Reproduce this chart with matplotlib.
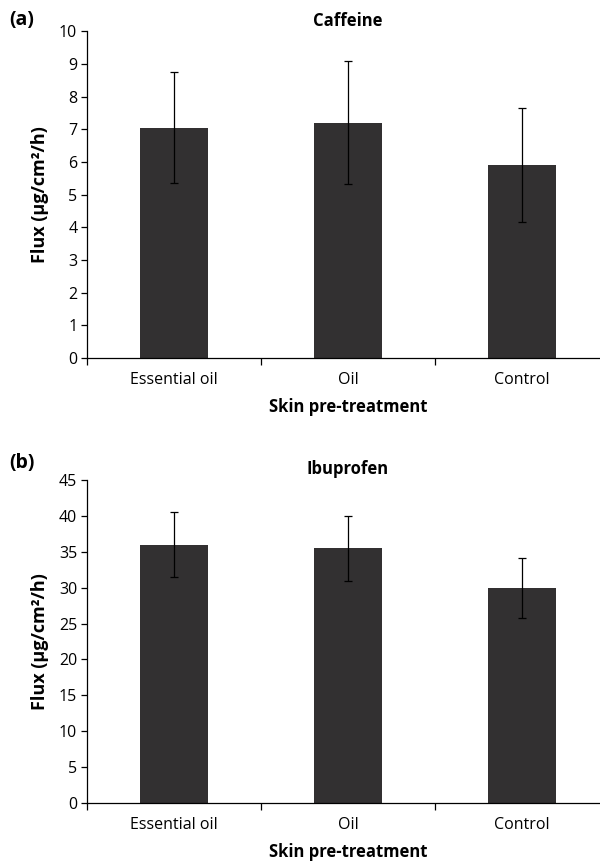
import numpy as np
import matplotlib.pyplot as plt

plt.rcParams['font.family'] = ['Open Sans', 'DejaVu Sans']

# Data
treatments = ['Essential oil', 'Oil', 'Control']
caffeine_flux = [7.05, 7.2, 5.9]
caffeine_err = [1.7, 1.88, 1.75]
ibuprofen_flux = [36.0, 35.5, 30.0]
ibuprofen_err = [4.55, 4.55, 4.2]

bar_color = '#323031'

fig = plt.figure(figsize=(6, 8.65), dpi=100)
ax1 = fig.add_axes([0.145, 0.586, 0.87, 0.378])
ax2 = fig.add_axes([0.145, 0.0717, 0.87, 0.3734])


def draw_panel(ax, vals, errs, title, ymax, ystep):
    x = np.arange(len(treatments))
    ax.bar(x, vals, width=0.39, color=bar_color, zorder=2)
    ax.errorbar(x, vals, yerr=errs, fmt='none', ecolor='black',
                elinewidth=0.9, capsize=3, capthick=0.9, zorder=3)
    ax.set_xlim(-0.5, 2.5)
    ax.set_ylim(0, ymax)
    ax.set_yticks(np.arange(0, ymax + 0.1, ystep))
    ax.set_xticks(x)
    ax.set_xticklabels(treatments, fontsize=11.5)
    ax.set_xticks([-0.5, 0.5, 1.5, 2.5], minor=True)
    ax.tick_params(axis='x', which='major', length=0, pad=10)
    ax.tick_params(axis='x', which='minor', length=5, width=0.9)
    ax.tick_params(axis='y', length=4, width=0.9, labelsize=11.5, pad=3)
    for s in ['top', 'right']:
        ax.spines[s].set_visible(False)
    for s in ['left', 'bottom']:
        ax.spines[s].set_linewidth(0.9)
    ax.set_ylabel('Flux (\u03bcg/cm\u00b2/h)', fontsize=13, fontweight='bold',
                  labelpad=7)
    ax.set_title(title, fontsize=12, fontweight='bold', pad=4)
    ax.set_xlabel('Skin pre-treatment', fontsize=12, fontweight='bold',
                  labelpad=7)


draw_panel(ax1, caffeine_flux, caffeine_err, 'Caffeine', 10, 1)
draw_panel(ax2, ibuprofen_flux, ibuprofen_err, 'Ibuprofen', 45, 5)

fig.text(0.015, 1 - 20 / 865, '(a)', fontsize=14, fontweight='bold', va='center')
fig.text(0.015, 1 - 463 / 865, '(b)', fontsize=14, fontweight='bold', va='center')

fig.savefig('out.png', dpi=100)
